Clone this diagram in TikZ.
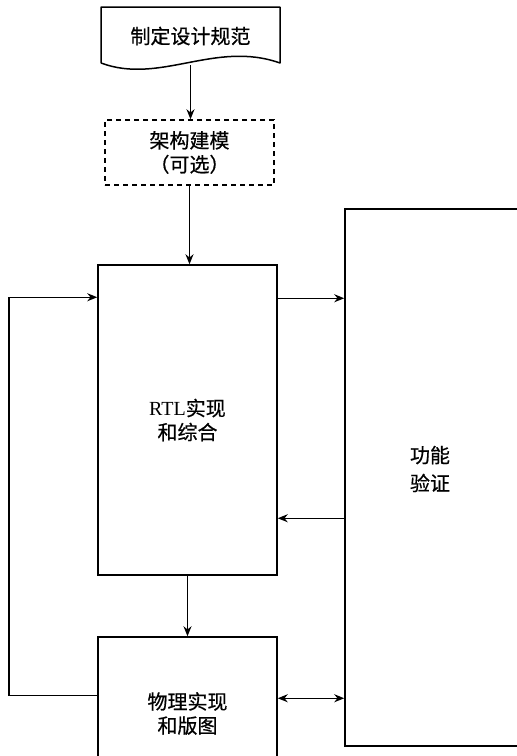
\documentclass[tikz,border=0pt]{standalone}
\usepackage{fontspec}
\newfontfamily\cjk[FakeBold=0.6]{Noto Sans CJK SC}
\newfontfamily\latinserif{Liberation Serif}
\usetikzlibrary{arrows.meta,calc}
\tikzset{
  line/.style={line width=1.5pt},
  arr/.style={line width=1.5pt,-{Stealth[length=10pt,width=8pt]}},
  darr/.style={line width=1.5pt,{Stealth[length=10pt,width=8pt]}-{Stealth[length=10pt,width=8pt]}},
  boxtext/.style={font=\cjk\fontsize{20}{24}\selectfont,align=center,inner sep=0pt},
  stepbox/.style={draw,line width=1.5pt,inner sep=0pt,boxtext},
}
\begin{document}
\begin{tikzpicture}[x=1pt,y=-1pt]
\useasboundingbox (0,0) rectangle (517,756);
\clip (0,0) rectangle (517,756);
% document shape
\node[boxtext,minimum width=179pt,minimum height=58pt] (doc) at (190.5,36) {制定设计规范};
\draw[line,line join=round] (101,63) -- (101,7) -- (280,7) -- (280,63)
  .. controls (215,40) and (160,85) .. (101,63);
\node[stepbox,dashed,dash pattern=on 5pt off 4pt,minimum width=169pt,minimum height=65pt] (arch) at (189.5,152.5) {架构建模\\（可选）};
\node[stepbox,minimum width=179pt,minimum height=310pt] (rtl) at (187.5,420) {{\latinserif RTL}实现\\和综合};
\node[draw,line width=1.5pt,minimum width=195pt,minimum height=537pt,inner sep=0pt] (ver) at (442.5,477.5) {};
\node[boxtext,font=\cjk\fontsize{20}{28}\selectfont] (vertext) at (430,469) {功能\\验证};
\node[stepbox,minimum width=179pt,minimum height=153pt] (phy) at (187.5,713.5) {物理实现\\和版图};
% connectors
\draw[arr] (doc.south) -- (arch.north -| doc.south);
\draw[arr] (arch.south) -- (arch.south |- rtl.north);
\coordinate (a1) at ($(rtl.north east)+(0,34)$);
\draw[arr] (a1) -- (a1 -| ver.west);
\coordinate (a2) at ($(ver.north west)+(0,310)$);
\draw[arr] (a2) -- (a2 -| rtl.east);
\draw[arr] (rtl.south) -- (phy.north);
\coordinate (a3) at ($(phy.north east)+(0,62)$);
\draw[darr] (a3) -- (a3 -| ver.west);
\coordinate (a4) at ($(phy.north west)+(0,59)$);
\coordinate (a5) at ($(rtl.north west)+(0,33)$);
\draw[arr] (a4) -- (9,0 |- a4) -- (9,0 |- a5) -- (a5);
\end{tikzpicture}
\end{document}
